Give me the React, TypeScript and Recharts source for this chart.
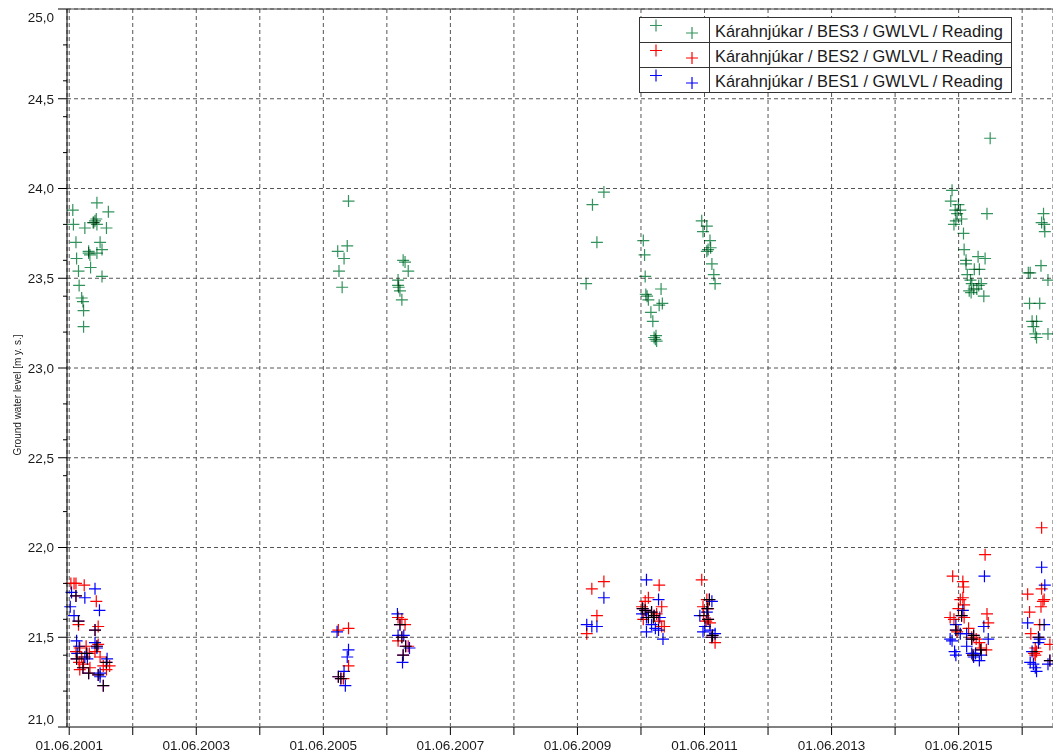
import React from 'react';
import { ScatterChart, Scatter, XAxis, YAxis, CartesianGrid, ReferenceLine } from 'recharts';

type Pt = [number, number];

const seriesNames = [
  'Kárahnjúkar / BES3 / GWLVL / Reading',
  'Kárahnjúkar / BES2 / GWLVL / Reading',
  'Kárahnjúkar / BES1 / GWLVL / Reading',
];
const seriesColors = ['#33935c', '#ff0000', '#0000ff'];
const yAxisTitle = 'Ground water level [m y. s.]';

// [decimal year, ground water level]
const bes3Readings: Pt[] = [
  [2001.85, 23.92], [2001.47, 23.88], [2002.03, 23.87], [2001.48, 23.80], [2001.82, 23.82],
  [2001.79, 23.81], [2001.80, 23.81], [2001.84, 23.83], [2001.85, 23.80], [2001.66, 23.78],
  [2002.00, 23.78], [2001.52, 23.70], [2001.90, 23.70], [2001.72, 23.65], [2001.93, 23.66],
  [2001.74, 23.63], [2001.72, 23.64], [2001.85, 23.64], [2001.53, 23.61], [2001.75, 23.56],
  [2001.56, 23.54], [2001.93, 23.51], [2001.57, 23.46], [2001.61, 23.39], [2001.63, 23.37],
  [2001.64, 23.32], [2001.64, 23.23],
  [2005.81, 23.93], [2005.79, 23.68], [2005.64, 23.65], [2005.74, 23.61], [2005.66, 23.54],
  [2005.71, 23.45],
  [2006.67, 23.60], [2006.70, 23.59], [2006.75, 23.54], [2006.59, 23.49], [2006.59, 23.46],
  [2006.60, 23.45], [2006.62, 23.43], [2006.65, 23.38],
  [2009.83, 23.98], [2009.65, 23.91], [2009.72, 23.70], [2009.55, 23.47],
  [2010.45, 23.71], [2010.47, 23.63], [2010.48, 23.51], [2010.73, 23.44], [2010.49, 23.41],
  [2010.51, 23.40], [2010.53, 23.38], [2010.75, 23.36], [2010.70, 23.35], [2010.57, 23.31],
  [2010.60, 23.26], [2010.65, 23.18], [2010.62, 23.17], [2010.64, 23.16], [2010.66, 23.15],
  [2011.37, 23.82], [2011.45, 23.79], [2011.39, 23.76], [2011.50, 23.71], [2011.51, 23.67],
  [2011.47, 23.66], [2011.45, 23.65], [2011.53, 23.58], [2011.56, 23.52], [2011.58, 23.47],
  [2015.31, 23.99], [2015.29, 23.93], [2015.41, 23.91], [2015.36, 23.88], [2015.44, 23.88],
  [2015.39, 23.86], [2015.46, 23.83], [2015.37, 23.82], [2015.34, 23.80], [2015.86, 23.86],
  [2015.91, 24.28], [2015.49, 23.75], [2015.50, 23.66], [2015.53, 23.60], [2015.53, 23.58],
  [2015.72, 23.62], [2015.83, 23.61], [2015.66, 23.55], [2015.74, 23.55], [2015.55, 23.52],
  [2015.60, 23.49], [2015.62, 23.47], [2015.77, 23.47], [2015.70, 23.44], [2015.65, 23.44],
  [2015.61, 23.42], [2015.81, 23.40], [2015.58, 23.43], [2015.73, 23.46],
  [2016.75, 23.86], [2016.72, 23.81], [2016.76, 23.80], [2016.77, 23.76], [2016.71, 23.57],
  [2016.51, 23.53], [2016.54, 23.53], [2016.82, 23.49], [2016.53, 23.36], [2016.69, 23.36],
  [2016.57, 23.26], [2016.64, 23.26], [2016.59, 23.23], [2016.62, 23.19], [2016.64, 23.17],
  [2016.82, 23.19],
];

const bes2Readings: Pt[] = [
  [2001.44, 21.80], [2001.49, 21.80], [2001.52, 21.80], [2001.65, 21.79], [2001.84, 21.70],
  [2001.56, 21.57], [2001.87, 21.56], [2001.58, 21.44], [2001.68, 21.45], [2001.87, 21.46],
  [2001.52, 21.42], [2001.61, 21.39], [2001.57, 21.36], [2001.64, 21.35], [2001.58, 21.32],
  [2001.74, 21.33], [2001.95, 21.34], [2002.05, 21.34], [2002.00, 21.32], [2001.73, 21.41],
  [2001.82, 21.42], [2001.90, 21.39],
  [2001.52, 21.73], [2001.56, 21.59], [2001.53, 21.38], [2001.63, 21.33], [2001.72, 21.30],
  [2001.82, 21.54], [2001.85, 21.45], [2001.87, 21.29], [2001.95, 21.23], [2002.00, 21.36],
  [2001.69, 21.41],
  [2005.81, 21.55], [2005.65, 21.54], [2005.81, 21.34], [2005.73, 21.27], [2005.65, 21.28],
  [2005.69, 21.27],
  [2006.59, 21.61], [2006.65, 21.60], [2006.70, 21.57], [2006.59, 21.48], [2006.75, 21.45],
  [2006.62, 21.57], [2006.65, 21.50], [2006.67, 21.40], [2006.71, 21.45],
  [2009.83, 21.81], [2009.64, 21.77], [2009.72, 21.62], [2009.56, 21.52],
  [2010.70, 21.79], [2010.53, 21.72], [2010.48, 21.70], [2010.43, 21.67], [2010.74, 21.67],
  [2010.66, 21.63], [2010.69, 21.59], [2010.45, 21.60], [2010.74, 21.56], [2010.78, 21.56],
  [2010.44, 21.66], [2010.48, 21.65], [2010.58, 21.64], [2010.53, 21.61], [2010.61, 21.61],
  [2010.62, 21.62],
  [2011.37, 21.82], [2011.45, 21.71], [2011.39, 21.67], [2011.47, 21.66], [2011.40, 21.62],
  [2011.44, 21.59], [2011.58, 21.47], [2011.50, 21.58],
  [2011.49, 21.71], [2011.46, 21.66], [2011.47, 21.60], [2011.54, 21.51], [2011.53, 21.50],
  [2015.32, 21.84], [2015.48, 21.81], [2015.49, 21.78], [2015.83, 21.96], [2015.48, 21.72],
  [2015.44, 21.71], [2015.50, 21.68], [2015.41, 21.66], [2015.28, 21.61], [2015.34, 21.60],
  [2015.50, 21.61], [2015.86, 21.63], [2015.88, 21.58], [2015.39, 21.53], [2015.57, 21.55],
  [2015.62, 21.50], [2015.69, 21.49], [2015.74, 21.47], [2015.77, 21.44], [2015.85, 21.43],
  [2015.46, 21.62], [2015.37, 21.54], [2015.65, 21.51], [2015.62, 21.49], [2015.76, 21.43],
  [2015.64, 21.40],
  [2016.72, 22.11], [2016.50, 21.74], [2016.72, 21.77], [2016.53, 21.64], [2016.74, 21.70],
  [2016.76, 21.71], [2016.71, 21.67], [2016.69, 21.57], [2016.55, 21.52], [2016.85, 21.46],
  [2016.62, 21.44], [2016.64, 21.42], [2016.62, 21.40], [2016.60, 21.41],
  [2016.67, 21.50], [2016.85, 21.37],
];

const bes1Readings: Pt[] = [
  [2001.45, 21.75], [2001.43, 21.67], [2001.49, 21.62], [2001.66, 21.72], [2001.82, 21.77],
  [2001.89, 21.65], [2001.53, 21.48], [2001.57, 21.45], [2001.54, 21.41], [2001.66, 21.39],
  [2001.70, 21.38], [2001.82, 21.47], [2001.85, 21.44], [2001.90, 21.30], [2002.01, 21.38],
  [2001.90, 21.28],
  [2001.52, 21.73], [2001.56, 21.59], [2001.53, 21.38], [2001.63, 21.33], [2001.72, 21.30],
  [2001.82, 21.54], [2001.85, 21.45], [2001.87, 21.29], [2001.95, 21.23], [2002.00, 21.36],
  [2001.69, 21.41],
  [2005.63, 21.53], [2005.81, 21.43], [2005.79, 21.39], [2005.74, 21.31], [2005.76, 21.23],
  [2005.65, 21.28], [2005.69, 21.27],
  [2006.58, 21.63], [2006.59, 21.51], [2006.68, 21.51], [2006.77, 21.44], [2006.66, 21.36],
  [2006.62, 21.57], [2006.65, 21.50], [2006.67, 21.40], [2006.71, 21.45],
  [2009.83, 21.72], [2009.56, 21.57], [2009.64, 21.56], [2009.72, 21.56],
  [2010.50, 21.82], [2010.69, 21.71], [2010.43, 21.63], [2010.71, 21.61], [2010.58, 21.57],
  [2010.64, 21.55], [2010.50, 21.53], [2010.69, 21.54], [2010.76, 21.49], [2010.50, 21.61],
  [2010.44, 21.66], [2010.48, 21.65], [2010.58, 21.64], [2010.53, 21.61], [2010.61, 21.61],
  [2010.62, 21.62],
  [2011.53, 21.70], [2011.45, 21.64], [2011.34, 21.62], [2011.42, 21.56], [2011.39, 21.53],
  [2011.50, 21.54], [2011.58, 21.52],
  [2011.49, 21.71], [2011.46, 21.66], [2011.47, 21.60], [2011.54, 21.51], [2011.53, 21.50],
  [2015.82, 21.84], [2015.48, 21.65], [2015.37, 21.57], [2015.81, 21.56], [2015.44, 21.52],
  [2015.54, 21.52], [2015.28, 21.49], [2015.31, 21.48], [2015.88, 21.49], [2015.54, 21.45],
  [2015.35, 21.42], [2015.37, 21.40], [2015.62, 21.41], [2015.68, 21.41], [2015.65, 21.39],
  [2015.74, 21.37], [2015.77, 21.40],
  [2015.46, 21.62], [2015.37, 21.54], [2015.65, 21.51], [2015.62, 21.49], [2015.76, 21.43],
  [2015.64, 21.40],
  [2016.72, 21.89], [2016.77, 21.79], [2016.50, 21.58], [2016.76, 21.57], [2016.69, 21.49],
  [2016.67, 21.47], [2016.57, 21.42], [2016.54, 21.36], [2016.59, 21.35], [2016.62, 21.33],
  [2016.64, 21.31], [2016.82, 21.35],
  [2016.67, 21.50], [2016.85, 21.37],
];

const tickYears = [2001, 2002, 2003, 2004, 2005, 2006, 2007, 2008, 2009, 2010, 2011, 2012, 2013, 2014, 2015, 2016];
const labelYears = [2001, 2003, 2005, 2007, 2009, 2011, 2013, 2015];
const yMajorTicks = [21, 21.5, 22, 22.5, 23, 23.5, 24, 24.5, 25];
const yMinorTicks = [21.2, 21.4, 21.6, 21.8, 22.2, 22.4, 22.6, 22.8, 23.2, 23.4, 23.6, 23.8, 24.2, 24.4, 24.6, 24.8];

const JUNE_FIRST = 151 / 365;
const X_MIN = 2001.379;
const X_MAX = 2016.899;
const FONT = '"Liberation Sans", Arial, Helvetica, sans-serif';

const xTicks = tickYears.map((y) => y + JUNE_FIRST);
const yTicks = [...yMajorTicks, ...yMinorTicks].sort((a, b) => a - b);

const toData = (pts: Pt[]) => pts.map(([x, y]) => ({ x, y }));

const plusShape = (color: string) => (props: any) => {
  const { cx, cy } = props;
  if (cx == null || cy == null) return <g />;
  const s = 6;
  return (
    <path
      d={`M${cx - s},${cy}H${cx + s}M${cx},${cy - s}V${cy + s}`}
      stroke={color}
      strokeWidth={1.2}
      fill="none"
      style={{ mixBlendMode: 'multiply' }}
    />
  );
};

const isMajor = (v: number) => yMajorTicks.some((m) => Math.abs(m - v) < 1e-6);

const YTick = (props: any) => {
  const { x, y, payload } = props;
  const v = payload.value as number;
  const major = isMajor(v);
  const dy = Math.abs(v - 25) < 1e-6 ? 8 : Math.abs(v - 21) < 1e-6 ? -8 : 0;
  return (
    <g>
      <line x1={x - (major ? 9 : 4)} x2={x} y1={y} y2={y} stroke="#000" strokeWidth={1} />
      {major && (
        <text x={x - 13} y={y + dy} dy="0.36em" textAnchor="end" fontSize={13.5} fontFamily={FONT} fill="#1a1a1a">
          {v.toFixed(1).replace('.', ',')}
        </text>
      )}
    </g>
  );
};

const XTick = (props: any) => {
  const { x, y, payload } = props;
  const year = Math.round(payload.value - JUNE_FIRST);
  const show = labelYears.includes(year);
  return (
    <g>
      <line x1={x} x2={x} y1={y} y2={y + 8} stroke="#000" strokeWidth={1} />
      {show && (
        <text x={x} y={y + 23} textAnchor="middle" fontSize={13.5} fontFamily={FONT} fill="#1a1a1a">
          {`01.06.${year}`}
        </text>
      )}
    </g>
  );
};

const series = [bes3Readings, bes2Readings, bes1Readings];

export default function App() {
  return (
    <div style={{ position: 'absolute', left: 8, top: 8, width: 1045, height: 745, background: '#fff' }}>
      <ScatterChart width={1045} height={745} margin={{ top: 1, right: 0, bottom: 0, left: 0 }}>
        <CartesianGrid stroke="#555" strokeDasharray="4 3" horizontalValues={yMajorTicks} />
        <XAxis
          type="number"
          dataKey="x"
          domain={[X_MIN, X_MAX]}
          ticks={xTicks}
          interval={0}
          height={26}
          tickSize={0}
          tickMargin={0}
          tickLine={false}
          axisLine={{ stroke: '#808080', strokeWidth: 2 }}
          tick={<XTick />}
        />
        <YAxis
          type="number"
          dataKey="y"
          domain={[21, 25]}
          ticks={yTicks}
          interval={0}
          width={59}
          tickSize={0}
          tickMargin={0}
          tickLine={false}
          axisLine={{ stroke: '#000' }}
          tick={<YTick />}
        />
        <ReferenceLine y={25} stroke="#444" strokeWidth={1} />
        {series.map((pts, i) => (
          <Scatter
            key={seriesNames[i]}
            name={seriesNames[i]}
            data={toData(pts)}
            isAnimationActive={false}
            shape={plusShape(seriesColors[i])}
          />
        ))}
      </ScatterChart>
      <svg width={1045} height={745} style={{ position: 'absolute', left: 0, top: 0, pointerEvents: 'none' }}>
        <text
          transform="translate(9, 387) rotate(-90)"
          textAnchor="middle"
          dy="0.35em"
          fontSize={10}
          fontFamily={FONT}
          fill="#1a1a1a"
        >
          {yAxisTitle}
        </text>
        <g transform="translate(631, 9)">
          <rect x={0.5} y={0.5} width={372} height={75} fill="#fff" stroke="#333" />
          <line x1={70.5} x2={70.5} y1={0.5} y2={75.5} stroke="#333" />
          {seriesNames.map((name, i) => {
            const top = i * 25;
            const c = seriesColors[i];
            return (
              <g key={name}>
                {i > 0 && <line x1={0.5} x2={372.5} y1={top + 0.5} y2={top + 0.5} stroke="#333" />}
                <path d={`M${11},${top + 8.5}H${23}M${17},${top + 2.5}V${top + 14.5}`} stroke={c} strokeWidth={1.2} fill="none" />
                <path d={`M${47},${top + 16}H${59}M${53},${top + 10}V${top + 22}`} stroke={c} strokeWidth={1.2} fill="none" />
                <text x={76} y={top + 19.5} fontSize={16.4} fontFamily={FONT} fill="#1a1a1a">
                  {name}
                </text>
              </g>
            );
          })}
        </g>
      </svg>
    </div>
  );
}
